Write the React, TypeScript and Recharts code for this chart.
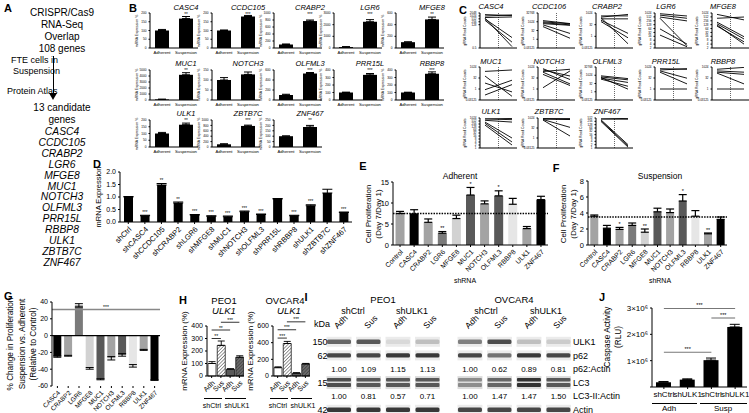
import React from 'react';
import {
  BarChart, Bar, XAxis, YAxis, ErrorBar, Cell, LineChart, Line,
  ReferenceLine, ComposedChart, Scatter, ScatterChart,
} from 'recharts';

const FONT = '"Liberation Sans", Arial, Helvetica, sans-serif';

/* ---------------- Panel A ---------------- */
const aHeader = ['CRISPR/Cas9', 'RNA-Seq', 'Overlap', '108 genes'];
const aCandidates = ['CASC4', 'CCDC105', 'CRABP2', 'LGR6', 'MFGE8', 'MUC1', 'NOTCH3', 'OLFML3', 'PRR15L', 'RBBP8', 'ULK1', 'ZBTB7C', 'ZNF467'];

/* ---------------- Panel B ---------------- */
const bGenes = ['CASC4', 'CCDC105', 'CRABP2', 'LGR6', 'MFGE8', 'MUC1', 'NOTCH3', 'OLFML3', 'PRR15L', 'RBBP8', 'ULK1', 'ZBTB7C', 'ZNF467'];
const bAdherent = [100, 100, 100, 80, 100, 100, 100, 100, 100, 100, 100, 100, 100];
const bAdherentErr = [6, 3, 15, 40, 6, 40, 12, 15, 5, 4, 8, 20, 3];
const bSuspension = [168, 180, 770, 2250, 490, 4200, 128, 530, 335, 350, 165, 780, 185];
const bSuspensionErr = [12, 6, 30, 180, 40, 350, 12, 20, 18, 25, 12, 30, 15];
const bMax = [200, 200, 1000, 3000, 600, 5000, 150, 600, 400, 400, 200, 1000, 250];
const bTickStep = [50, 50, 200, 1000, 200, 1000, 50, 200, 100, 100, 50, 200, 50];
const bStars = ['**', '***', '***', '***', '**', '**', '', '***', '***', '***', '**', '***', '**'];
const bXLabels = ['Adherent', 'Suspension'];

/* ---------------- Panel C ---------------- */
const cGenes = ['CASC4', 'CCDC106', 'CRABP2', 'LGR6', 'MFGE8', 'MUC1', 'NOTCH3', 'OLFML3', 'PRR15L', 'RBBP8', 'ULK1', 'ZBTB7C', 'ZNF467'];
const cAdherent = [
  [1400, 1000, 700, 500, 360, 600],
  [1600, 1000, 700, 480, 300, 150],
  [300, 430, 180, 120, 80, 250],
  [900, 700, 500, 60, 400, 20],
  [800, 400, 200, 150, 100, 120],
  [256, 6.5, 0.8, 0.15, 60],
  [600, 400, 200, 100, 1.5, 250],
  [800, 500, 300, 200, 400],
  [600, 400, 300, 200, 1],
  [500, 300, 200, 150, 1],
  [1000, 800, 600, 400, 300, 200],
  [1000, 800, 700, 600, 500],
  [500, 400, 350, 300, 250],
];
const cSuspension = [
  [1100, 1300, 800, 6, 2, 0.7],
  [500, 450, 300, 250, 10, 1.5],
  [670, 430, 180, 2.4, 0.65, 0.11],
  [600, 400, 250, 4, 3, 2.5],
  [300, 500, 15, 10, 6, 4],
  [400, 0.4, 16, 4, 0.1],
  [20, 60, 5, 3, 300, 500],
  [250, 150, 50, 10, 3],
  [500, 600, 30, 5, 1],
  [900, 200, 100, 5, 1],
  [900, 700, 400, 10, 4, 2],
  [900, 700, 600, 40, 2],
  [450, 400, 2, 1.5, 1.2],
];
const cDomainMin = [0.5, 0.03125, 0.03125, 2, 2, 0.03125, 0.03125, 0.03125, 0.03125, 0.03125, 1, 0.03125, 1];
const cDomainMax = [2048, 32768, 1024, 1024, 1024, 1024, 1024, 32768, 1024, 1024, 1024, 1024, 512];
const ticksDense = [1, 2, 4, 8, 16, 32, 64, 128, 256, 512, 1024];
const ticksSparse = [0.03125, 1, 32, 1024];
const ticksSparseHigh = [0.03125, 1, 32, 1024, 32768];
const cTicks = [
  [0.5, 128, 256, 512, 1024, 2048], ticksSparseHigh, ticksSparse, [2, 4, 8, 16, 32, 64, 128, 256, 512, 1024],
  [2, 4, 8, 16, 32, 64, 128, 256, 512, 1024], ticksSparse, ticksSparse, ticksSparseHigh, ticksSparse, ticksSparse,
  ticksDense, ticksSparse, [1, 2, 4, 8, 16, 32, 64, 128, 256, 512],
];

/* ---------------- Panel D ---------------- */
const dLabels = ['shCtrl', 'shCASC4', 'shCCDC105', 'shCRABP2', 'shLGR6', 'shMFGE8', 'shMUC1', 'shNOTCH3', 'shOLFML3', 'shPRR15L', 'shRBBP8', 'shULK1', 'shZBTB7C', 'shZNF467'];
const dValues = [1.0, 0.25, 1.48, 0.76, 0.28, 0.23, 0.21, 0.41, 0.3, 0.92, 0.25, 0.65, 1.16, 0.38];
const dErrors = [0.02, 0.02, 0.06, 0.04, 0.02, 0.02, 0.03, 0.03, 0.02, 0.02, 0.02, 0.04, 0.15, 0.02];
const dStars = ['', '***', '**', '**', '***', '***', '***', '***', '***', '', '***', '***', '', '***'];
const dTicks = [0, 0.5, 1.0, 1.5, 2.0];

/* ---------------- Panels E / F ---------------- */
const shLabels = ['Control', 'CASC4', 'CRABP2', 'LGR6', 'MFGE8', 'MUC1', 'NOTCH3', 'OLFML3', 'RBBP8', 'ULK1', 'ZNF467'];
const shColors = ['#a3a3a3', '#000000', '#a3a3a3', '#7a7a7a', '#d2d2d2', '#595959', '#a3a3a3', '#595959', '#e6e6e6', '#a3a3a3', '#000000'];
const adherentProlif = [7.5, 7.4, 5.4, 2.8, 6.3, 11.9, 9.8, 11.7, 9.7, 3.9, 10.8];
const adherentProlifErr = [0.5, 1.0, 0.8, 0.4, 0.8, 1.8, 0.7, 1.2, 1.4, 0.5, 0.8];
const adherentStars = ['', '', '', '**', '', '*', '', '*', '', '', ''];
const adherentTicks = [0, 5, 10, 15];
const adherentControl = 7.5;
const suspensionProlif = [3.6, 2.1, 1.95, 2.45, 1.6, 4.15, 4.05, 5.5, 3.6, 1.4, 3.2];
const suspensionProlifErr = [0.15, 0.35, 0.25, 0.3, 0.4, 0.45, 0.45, 0.8, 0.7, 0.1, 0.3];
const suspensionStars = ['', '', '*', '', '**', '', '', '*', '', '**', ''];
const suspensionTicks = [0, 2, 4, 6, 8];
const suspensionControl = 3.5;

/* ---------------- Panel G ---------------- */
const gLabels = ['CASC4', 'CRABP2', 'LGR6', 'MFGE8', 'MUC1', 'NOTCH3', 'OLFML3', 'RBBP8', 'ULK1', 'ZNF467'];
const gValues = [-25, -24, 36, -39, -52, -27, -23, -36, -17, -53];
const gErrors = [0.8, 0.5, 2, 1, 0.6, 2, 1.5, 1.5, 0.6, 0.3];
const gColors = ['#000000', '#a3a3a3', '#7a7a7a', '#d2d2d2', '#595959', '#a3a3a3', '#595959', '#e6e6e6', '#a3a3a3', '#000000'];
const gTicks = [-60, -40, -20, 0, 20, 40];
const gSignificance = 31;

/* ---------------- Panel H ---------------- */
const hKeys = ['a1', 's1', 'a2', 's2'];
const hCategories = ['Adh', 'Sus', 'Adh', 'Sus'];
const hGroups = ['shCtrl', 'shULK1'];
const peo1Values = [100, 245, 55, 150];
const peo1Errors = [15, 35, 3, 12];
const peo1Ticks = [0, 100, 200, 300, 400];
const peo1Brackets = [
  { from: 'a1', to: 's1', y: 300, s: '**' },
  { from: 'a1', to: 'a2', y: 368, s: '**' },
  { from: 's1', to: 's2', y: 430, s: '***' },
];
const ovcar4Values = [100, 390, 35, 145];
const ovcar4Errors = [10, 25, 4, 6];
const ovcar4Ticks = [0, 200, 400, 600];
const ovcar4Brackets = [
  { from: 'a1', to: 's1', y: 455, s: '***' },
  { from: 'a1', to: 'a2', y: 555, s: '***' },
  { from: 's1', to: 's2', y: 650, s: '***' },
];

/* ---------------- Panel I ---------------- */
const blotLanes = ['Adh', 'Sus', 'Adh', 'Sus', 'Adh', 'Sus', 'Adh', 'Sus'];
const blotRowNames = ['ULK1', 'p62', 'p62:Actin', 'LC3', 'LC3-II:Actin', 'Actin'];
const blotKda = ['150 -', '62 -', '', '15 -', '', '42 -'];
const ulk1Band = [0.6, 0.65, 0.15, 0.25, 0.5, 0.7, 0.25, 0.2];
const p62Band = [0.72, 0.72, 0.78, 0.78, 0.72, 0.55, 0.78, 0.72];
const lc3Band = [0.7, 0.65, 0.65, 0.65, 0.45, 0.6, 0.8, 0.65];
const actinBand = [0.78, 0.78, 0.78, 0.78, 0.72, 0.72, 0.72, 0.72];
const p62Ratio = ['1.00', '1.09', '1.15', '1.13', '1.00', '0.62', '0.89', '0.81'];
const lc3Ratio = ['1.00', '0.81', '0.57', '0.71', '1.00', '1.47', '1.47', '1.50'];

/* ---------------- Panel J ---------------- */
const jKeys = ['c1', 'u1', 'c2', 'u2'];
const jLabels = ['shCtrl', 'shULK1', 'shCtrl', 'shULK1'];
const jValues = [0.18e6, 0.28e6, 1.02e6, 2.28e6];
const jErrors = [0.03e6, 0.03e6, 0.08e6, 0.1e6];
const jTicks = [0, 1e6, 2e6, 3e6];
const jBrackets = [
  { from: 'c1', to: 'u2', y: 2.98e6, s: '***' },
  { from: 'c2', to: 'u2', y: 2.62e6, s: '***' },
  { from: 'c1', to: 'c2', y: 1.32e6, s: '***' },
];

/* ---------------- helpers ---------------- */
const range = (max: number, step: number) =>
  Array.from({ length: Math.round(max / step) + 1 }, (_, k) => k * step);

type TP = {
  x: number; y: number; s?: number; a?: 'start' | 'middle' | 'end'; i?: boolean; b?: boolean;
  r?: number; lh?: number; children: React.ReactNode;
};
const T = ({ x, y, s = 9, a = 'middle', i = false, b = false, r = 0, lh, children }: TP) => {
  const tx = a === 'middle' ? '-50%' : a === 'end' ? '-100%' : '0';
  return (
    <div
      style={{
        position: 'absolute', left: x, top: y,
        transform: `translate(${tx},-50%) rotate(${r}deg)`,
        fontSize: s, fontStyle: i ? 'italic' : 'normal', fontWeight: b ? 'bold' : 'normal',
        whiteSpace: 'pre', lineHeight: lh ? `${lh}px` : 1, textAlign: 'center', color: '#000',
        fontFamily: FONT,
      }}
    >
      {children}
    </div>
  );
};

const HLine = ({ x1, x2, y }: { x1: number; x2: number; y: number }) => (
  <div style={{ position: 'absolute', left: x1, top: y, width: x2 - x1, height: 0, borderTop: '1px solid #000' }} />
);

const starShape = (fs: number) => (p: any) =>
  p.payload && p.payload.st ? (
    <text x={p.cx} y={p.cy - 1.5} textAnchor="middle" fontSize={fs} fill="#000" fontFamily={FONT}>{p.payload.st}</text>
  ) : (
    <g />
  );

/* ---------------- Panel A ---------------- */
function PanelA() {
  return (
    <>
      <T x={4} y={8} s={11} b a="start">A</T>
      {aHeader.map((t, k) => (
        <T key={t} x={62} y={12.5 + k * 12.2} s={10}>{t}</T>
      ))}
      <div style={{ position: 'absolute', left: 52.5, top: 56, width: 1, height: 38, background: '#000' }} />
      <div style={{ position: 'absolute', left: 49, top: 93, width: 0, height: 0, borderLeft: '4px solid transparent', borderRight: '4px solid transparent', borderTop: '7px solid #000' }} />
      <T x={11} y={60} s={9} a="start">FTE cells in</T>
      <T x={13} y={71} s={9} a="start">Suspension</T>
      <T x={7} y={91} s={9} a="start">Protein Atlas</T>
      <T x={62} y={108} s={10}>13 candidate</T>
      <T x={62} y={120} s={10}>genes</T>
      {aCandidates.map((g, k) => (
        <T key={g} x={62} y={132 + k * 10.9} s={10.3} i>{g}</T>
      ))}
    </>
  );
}

/* ---------------- Panel B ---------------- */
const bColTitle = [186, 248, 310, 370, 432];
const bRows = [
  { top: 13, h: 35, title: 8 },
  { top: 70, h: 30, title: 64 },
  { top: 120, h: 27, title: 114 },
];

function MiniBar({ i }: { i: number }) {
  const col = i % 5;
  const row = Math.floor(i / 5);
  const ax = bColTitle[col] - 36;
  const r = bRows[row];
  const yw = 13;
  const pw = 48;
  const xh = 8;
  const pad = 3;
  const data = [
    { name: bXLabels[0], v: bAdherent[i], e: [0, bAdherentErr[i]] },
    { name: bXLabels[1], v: bSuspension[i], e: [0, bSuspensionErr[i]] },
  ];
  return (
    <>
      <div style={{ position: 'absolute', left: ax - yw, top: r.top - pad }}>
        <BarChart width={yw + pw + pad} height={r.h + xh + pad} data={data} margin={{ top: pad, right: pad, bottom: 0, left: 0 }}>
          <XAxis dataKey="name" interval={0} tick={{ fontSize: 4.2, fill: '#000' }} tickLine={false} height={xh} stroke="#000" tickSize={1} />
          <YAxis width={yw} domain={[0, bMax[i]]} ticks={range(bMax[i], bTickStep[i])} interval={0} tick={{ fontSize: 3.2, fill: '#000' }} tickSize={1.5} stroke="#000" allowDataOverflow />
          <Bar dataKey="v" fill="#000" barSize={14} isAnimationActive={false}>
            <ErrorBar dataKey="e" width={4} stroke="#000" strokeWidth={1} />
          </Bar>
        </BarChart>
      </div>
      <T x={bColTitle[col]} y={r.title} s={7.5} i>{bGenes[i]}</T>
      {bStars[i] ? <T x={bColTitle[col]} y={r.title + 6.5} s={4.5}>{bStars[i]}</T> : null}
      <T x={ax - 12} y={r.top + r.h / 2} s={3.5} r={-90}>mRNA Expression %</T>
    </>
  );
}

function PanelB() {
  return (
    <>
      <T x={133} y={8} s={11} b>B</T>
      {bGenes.map((g, i) => <MiniBar key={g} i={i} />)}
    </>
  );
}

/* ---------------- Panel C ---------------- */
const cColAxis = [480, 538, 596, 655, 712];
const cRows = [
  { top: 13, h: 35, title: 7 },
  { top: 67, h: 33, title: 62 },
  { top: 118, h: 30, title: 112 },
];

function MiniLine({ i }: { i: number }) {
  const col = i % 5;
  const row = Math.floor(i / 5);
  const ax = cColAxis[col];
  const r = cRows[row];
  const yw = 16;
  const pw = 37;
  const xh = 8;
  const pad = 3;
  const a = cAdherent[i];
  const s = cSuspension[i];
  const p0: any = { x: 1 };
  const p1: any = { x: 2 };
  a.forEach((v, k) => { p0['s' + k] = v; p1['s' + k] = s[k]; });
  const data = [p0, p1];
  return (
    <>
      <div style={{ position: 'absolute', left: ax - yw, top: r.top - pad }}>
        <LineChart width={yw + pw + pad} height={r.h + xh + pad} data={data} margin={{ top: pad, right: pad, bottom: 0, left: 0 }}>
          <XAxis dataKey="x" type="number" domain={[0.815, 2.185]} ticks={[1, 2]} tickFormatter={(v: number) => (v === 1 ? 'Adherent' : 'Suspension')} tick={{ fontSize: 4, fill: '#000' }} height={xh} stroke="#000" tickSize={1.5} allowDataOverflow />
          <YAxis type="number" scale="log" domain={[cDomainMin[i], cDomainMax[i]]} ticks={cTicks[i]} interval={0} allowDataOverflow width={yw} tick={{ fontSize: 3, fill: '#000' }} tickSize={1.5} stroke="#000" />
          <ReferenceLine x={1.5} stroke="#000" strokeDasharray="1 1" strokeWidth={0.6} />
          {a.map((_, k) => (
            <Line key={k} dataKey={'s' + k} stroke="#000" strokeWidth={0.9} dot={false} isAnimationActive={false} />
          ))}
        </LineChart>
      </div>
      <T x={ax + 11} y={r.title} s={7.5} i>{cGenes[i]}</T>
      <T x={ax - 14.5} y={r.top + r.h / 2} s={3.4} r={-90}>gRNA Read Counts</T>
    </>
  );
}

function PanelC() {
  return (
    <>
      <T x={463} y={10} s={11} b>C</T>
      {cGenes.map((g, i) => <MiniLine key={g} i={i} />)}
    </>
  );
}

/* ---------------- Panel D ---------------- */
function PanelD() {
  const data = dLabels.map((n, k) => ({ name: n, v: dValues[k], e: [0, dErrors[k]], top: dValues[k] + dErrors[k], st: dStars[k] }));
  return (
    <>
      <T x={97} y={164} s={11} b>D</T>
      <T x={99} y={197} s={7.5} r={-90}>mRNA Expression</T>
      <div style={{ position: 'absolute', left: 104, top: 162 }}>
        <ComposedChart width={248} height={100} data={data} margin={{ top: 10, right: 0, bottom: 0, left: 0 }} barCategoryGap="24%">
          <XAxis dataKey="name" interval={0} angle={-45} textAnchor="end" tick={{ fontSize: 7.5, fill: '#000' }} height={40} stroke="#000" tickSize={2} />
          <YAxis width={16} domain={[0, 2]} ticks={dTicks} interval={0} tickFormatter={(v: number) => v.toFixed(1)} tick={{ fontSize: 7, fill: '#000' }} tickSize={2} stroke="#000" />
          <Bar dataKey="v" fill="#000" isAnimationActive={false}>
            <ErrorBar dataKey="e" width={5} stroke="#000" strokeWidth={1} />
          </Bar>
          <Scatter dataKey="top" isAnimationActive={false} shape={starShape(4.5)} />
        </ComposedChart>
      </div>
    </>
  );
}

/* ---------------- Panels E / F ---------------- */
function ProlifChart(props: {
  left: number; top: number; width: number; height: number; mt: number; xh: number;
  values: number[]; errors: number[]; stars: string[]; max: number; ticks: number[]; refY: number;
}) {
  const { left, top, width, height, mt, xh, values, errors, stars, max, ticks, refY } = props;
  const data = shLabels.map((n, k) => ({ name: n, v: values[k], e: [0, errors[k]], top: values[k] + errors[k], st: stars[k] }));
  return (
    <div style={{ position: 'absolute', left, top }}>
      <ComposedChart width={width} height={height} data={data} margin={{ top: mt, right: 0, bottom: 0, left: 0 }} barCategoryGap="18%">
        <XAxis dataKey="name" interval={0} angle={-45} textAnchor="end" tick={{ fontSize: 6.8, fill: '#000' }} height={xh} stroke="#000" tickSize={2} />
        <YAxis width={17} domain={[0, max]} ticks={ticks} interval={0} tick={{ fontSize: 7.5, fill: '#000' }} tickSize={2} stroke="#000" />
        <Bar dataKey="v" isAnimationActive={false}>
          {data.map((d, k) => <Cell key={d.name} fill={shColors[k]} />)}
          <ErrorBar dataKey="e" width={4} stroke="#000" strokeWidth={1.2} />
        </Bar>
        <ReferenceLine y={refY} stroke="#000" strokeDasharray="1.5 1.2" strokeWidth={1.3} />
        <Scatter dataKey="top" isAnimationActive={false} shape={starShape(5.5)} />
      </ComposedChart>
    </div>
  );
}

function PanelEF() {
  return (
    <>
      <T x={363} y={166} s={11} b>E</T>
      <T x={460} y={176} s={8.5}>Adherent</T>
      <T x={374} y={214} s={8} r={-90} lh={10}>{'Cell Proliferation\n(Day 7/Day 1)'}</T>
      <ProlifChart left={376} top={170} width={172} height={105} mt={12} xh={30}
        values={adherentProlif} errors={adherentProlifErr} stars={adherentStars} max={15} ticks={adherentTicks} refY={adherentControl} />
      <T x={465} y={280} s={7}>shRNA</T>

      <T x={556} y={168} s={11} b>F</T>
      <T x={660} y={176} s={8.5}>Suspension</T>
      <T x={569} y={214} s={8} r={-90} lh={10}>{'Cell Proliferation\n(Day 7/Day 1)'}</T>
      <ProlifChart left={571} top={170} width={156} height={103} mt={11} xh={28}
        values={suspensionProlif} errors={suspensionProlifErr} stars={suspensionStars} max={8} ticks={suspensionTicks} refY={suspensionControl} />
      <T x={660} y={280} s={7}>shRNA</T>
    </>
  );
}

/* ---------------- Panel G ---------------- */
function PanelG() {
  const data = gLabels.map((n, k) => ({ name: n, v: gValues[k], e: gErrors[k] }));
  return (
    <>
      <T x={4} y={296} s={11} b a="start">G</T>
      <T x={22} y={344} s={8.2} r={-90} lh={11.5}>{'% Change in Proliferation\nSuspension vs. Adherent\n(Relative to Control)'}</T>
      <div style={{ position: 'absolute', left: 36, top: 296 }}>
        <BarChart width={124} height={116} data={data} margin={{ top: 6, right: 0, bottom: 0, left: 0 }} barCategoryGap="12%">
          <XAxis dataKey="name" interval={0} angle={-45} textAnchor="end" tick={{ fontSize: 6.4, fill: '#000' }} height={26} stroke="#000" axisLine={false} tickSize={2} />
          <YAxis width={16} domain={[-60, 40]} ticks={gTicks} interval={0} tick={{ fontSize: 7, fill: '#000' }} tickSize={2} stroke="#000" />
          <ReferenceLine y={0} stroke="#000" strokeWidth={1.2} />
          <ReferenceLine y={gSignificance} stroke="#888" strokeWidth={1.4} label={{ value: '***', position: 'top', fontSize: 5, fill: '#000', offset: 1 }} />
          <Bar dataKey="v" isAnimationActive={false}>
            {data.map((d, k) => <Cell key={d.name} fill={gColors[k]} />)}
            <ErrorBar dataKey="e" width={4} stroke="#000" strokeWidth={1} />
          </Bar>
        </BarChart>
      </div>
    </>
  );
}

/* ---------------- Panel H ---------------- */
function HChart(props: {
  id: string; left: number; top: number; mt: number; values: number[]; errors: number[]; max: number; ticks: number[];
  brackets: { from: string; to: string; y: number; s: string }[];
}) {
  const { id, left, top, mt, values, errors, max, ticks, brackets } = props;
  const data = hKeys.map((k, j) => ({ name: k, v: values[j], e: [0, errors[j]] }));
  const fills = ['#ffffff', `url(#${id}-hw)`, '#5a5a5a', `url(#${id}-hd)`];
  return (
    <div style={{ position: 'absolute', left, top }}>
      <BarChart width={54} height={mt + 50 + 18} data={data} margin={{ top: mt, right: 0, bottom: 0, left: 0 }}>
        <defs>
          <pattern id={`${id}-hw`} patternUnits="userSpaceOnUse" width="2.4" height="2.4" patternTransform="rotate(45)">
            <rect width="2.4" height="2.4" fill="#fff" />
            <line x1="0" y1="0" x2="0" y2="2.4" stroke="#000" strokeWidth="0.8" />
          </pattern>
          <pattern id={`${id}-hd`} patternUnits="userSpaceOnUse" width="2.4" height="2.4" patternTransform="rotate(45)">
            <rect width="2.4" height="2.4" fill="#6a6a6a" />
            <line x1="0" y1="0" x2="0" y2="2.4" stroke="#222" strokeWidth="0.8" />
          </pattern>
        </defs>
        <XAxis dataKey="name" interval={0} angle={-45} textAnchor="end" tickFormatter={(_v: string, idx: number) => hCategories[idx]} tick={{ fontSize: 7, fill: '#000' }} height={18} stroke="#000" tickSize={2} />
        <YAxis width={17} domain={[0, max]} ticks={ticks} interval={0} tick={{ fontSize: 7, fill: '#000' }} tickSize={2} stroke="#000" />
        <Bar dataKey="v" barSize={8} isAnimationActive={false} stroke="#000" strokeWidth={0.7}>
          {data.map((d, k) => <Cell key={d.name} fill={fills[k]} />)}
          <ErrorBar dataKey="e" width={3.5} stroke="#000" strokeWidth={0.9} />
        </Bar>
        {brackets.map((b, k) => (
          <ReferenceLine key={k} segment={[{ x: b.from, y: b.y }, { x: b.to, y: b.y }]} ifOverflow="visible" stroke="#000" strokeWidth={0.8}
            label={{ value: b.s, position: 'top', fontSize: 5, fill: '#000', offset: 0.5 }} />
        ))}
      </BarChart>
    </div>
  );
}

function PanelH() {
  return (
    <>
      <T x={183} y={300} s={11} b>H</T>
      <T x={224} y={301} s={9.5}>PEO1</T>
      <T x={224} y={311} s={9.5} i>ULK1</T>
      <T x={185} y={351} s={8} r={-90}>mRNA Expression (%)</T>
      <HChart id="peo1" left={190} top={308} mt={18} values={peo1Values} errors={peo1Errors} max={400} ticks={peo1Ticks} brackets={peo1Brackets} />
      <HLine x1={204} x2={222} y={398} />
      <HLine x1={225} x2={246} y={398} />
      <T x={212} y={405} s={7}>{hGroups[0]}</T>
      <T x={237} y={405} s={7}>{hGroups[1]}</T>

      <T x={285} y={301} s={9.5}>OVCAR4</T>
      <T x={289} y={311} s={9.5} i>ULK1</T>
      <T x={251} y={351} s={8} r={-90}>mRNA Expression (%)</T>
      <HChart id="ovc" left={256} top={308} mt={18} values={ovcar4Values} errors={ovcar4Errors} max={600} ticks={ovcar4Ticks} brackets={ovcar4Brackets} />
      <HLine x1={270} x2={288} y={398} />
      <HLine x1={291} x2={312} y={398} />
      <T x={278} y={405} s={7}>{hGroups[0]}</T>
      <T x={303} y={405} s={7}>{hGroups[1]}</T>
    </>
  );
}

/* ---------------- Panel I ---------------- */
const laneX = (l: number) => l + (l >= 4 ? 0.44 : 0);
const BandShape = (p: any) => {
  const { cx, cy, payload } = p;
  const v = payload.v;
  const g = Math.round(255 * (1 - v));
  const col = `rgb(${g},${g},${g})`;
  if (payload.double) {
    return (
      <g filter="url(#blotBlur)">
        <rect x={cx - 12.5} y={cy - 6.5} width={25} height={13} fill="rgba(0,0,0,0.14)" />
        <rect x={cx - 12} y={cy - 4.5} width={24} height={3.5} rx={1} fill={col} />
        <rect x={cx - 12} y={cy + 0.5} width={24} height={4} rx={1} fill={col} />
      </g>
    );
  }
  return (
    <g filter="url(#blotBlur)">
      <rect x={cx - 12.5} y={cy - 5} width={25} height={10} fill="rgba(0,0,0,0.08)" />
      <rect x={cx - 12} y={cy - 2.2} width={24} height={4.4} rx={1.5} fill={col} />
    </g>
  );
};
const RatioShape = (p: any) => (
  <text x={p.cx} y={p.cy + 3} textAnchor="middle" fontSize={8} fill="#000" fontFamily={FONT}>{p.payload.t}</text>
);

function PanelI() {
  const bands: any[] = [];
  const rows: [number, number[], boolean][] = [[0, ulk1Band, false], [1, p62Band, false], [3, lc3Band, true], [5, actinBand, false]];
  rows.forEach(([r, arr, dbl]) => arr.forEach((v, l) => bands.push({ x: laneX(l), y: r, v, double: dbl })));
  const ratios: any[] = [];
  p62Ratio.forEach((t, l) => ratios.push({ x: laneX(l), y: 2, t }));
  lc3Ratio.forEach((t, l) => ratios.push({ x: laneX(l), y: 4, t }));
  const lanePx = (l: number) => 339 + laneX(l) * 29.5;
  return (
    <>
      <T x={306} y={297} s={11} b>I</T>
      <T x={383} y={300} s={9.5}>PEO1</T>
      <T x={353} y={311} s={9}>shCtrl</T>
      <T x={412} y={311} s={9}>shULK1</T>
      <T x={514} y={300} s={9.5}>OVCAR4</T>
      <T x={486} y={311} s={9}>shCtrl</T>
      <T x={546} y={311} s={9}>shULK1</T>
      <T x={322} y={324} s={9}>kDa</T>
      {blotLanes.map((t, l) => (
        <T key={l} x={lanePx(l) + 2} y={322} s={8.5} r={-45}>{t}</T>
      ))}
      {blotKda.map((t, r) => (t ? <T key={r} x={333} y={342 + r * 13.6} s={9} a="end">{t}</T> : null))}
      {blotRowNames.map((t, r) => (
        <T key={t} x={573} y={342 + r * 13.6} s={9} a="start">{t}</T>
      ))}
      <div style={{ position: 'absolute', left: 322, top: 335.2 }}>
        <ScatterChart width={250} height={81.6} margin={{ top: 0, right: 0, bottom: 0, left: 0 }}>
          <defs>
            <filter id="blotBlur" x="-20%" y="-50%" width="140%" height="200%">
              <feGaussianBlur stdDeviation="0.7" />
            </filter>
          </defs>
          <XAxis type="number" dataKey="x" domain={[-0.576, 7.899]} hide allowDataOverflow />
          <YAxis type="number" dataKey="y" domain={[-0.5, 5.5]} reversed hide allowDataOverflow />
          <Scatter data={bands} shape={BandShape} isAnimationActive={false} />
          <Scatter data={ratios} shape={RatioShape} isAnimationActive={false} />
        </ScatterChart>
      </div>
    </>
  );
}

/* ---------------- Panel J ---------------- */
function PanelJ() {
  const data = jKeys.map((k, j) => ({ name: k, v: jValues[j], e: [0, jErrors[j]] }));
  return (
    <>
      <T x={602} y={297} s={11} b>J</T>
      <T x={613} y={337} s={8.3} r={-90} lh={11}>{'Caspase Activity\n(RLU)'}</T>
      <div style={{ position: 'absolute', left: 622, top: 294 }}>
        <BarChart width={127} height={107} data={data} margin={{ top: 14, right: 2, bottom: 0, left: 0 }}>
          <XAxis dataKey="name" interval={0} tickFormatter={(_v: string, idx: number) => jLabels[idx]} tick={{ fontSize: 8, fill: '#000' }} height={14} stroke="#000" tickSize={2} />
          <YAxis width={30} domain={[0, 3e6]} ticks={jTicks} interval={0} tickFormatter={(v: number) => (v === 0 ? '' : `${v / 1e6}×10⁶`)} tick={{ fontSize: 8, fill: '#000' }} tickSize={2} stroke="#000" />
          <Bar dataKey="v" fill="#000" barSize={15} isAnimationActive={false}>
            <ErrorBar dataKey="e" width={5} stroke="#000" strokeWidth={1} />
          </Bar>
          {jBrackets.map((b, k) => (
            <ReferenceLine key={k} segment={[{ x: b.from, y: b.y }, { x: b.to, y: b.y }]} ifOverflow="visible" stroke="#777" strokeWidth={1.1}
              label={{ value: b.s, position: 'top', fontSize: 5.5, fill: '#000', offset: 1.5 }} />
          ))}
        </BarChart>
      </div>
      <HLine x1={652} x2={697} y={403} />
      <HLine x1={700} x2={747} y={403} />
      <T x={669} y={409} s={8}>Adh</T>
      <T x={723} y={409} s={8}>Susp</T>
    </>
  );
}

export default function App() {
  return (
    <div style={{ position: 'fixed', left: 0, top: 0, width: 749, height: 413, background: '#fff', overflow: 'hidden', fontFamily: FONT, color: '#000' }}>
      <PanelA />
      <PanelB />
      <PanelC />
      <PanelD />
      <PanelEF />
      <PanelG />
      <PanelH />
      <PanelI />
      <PanelJ />
    </div>
  );
}
